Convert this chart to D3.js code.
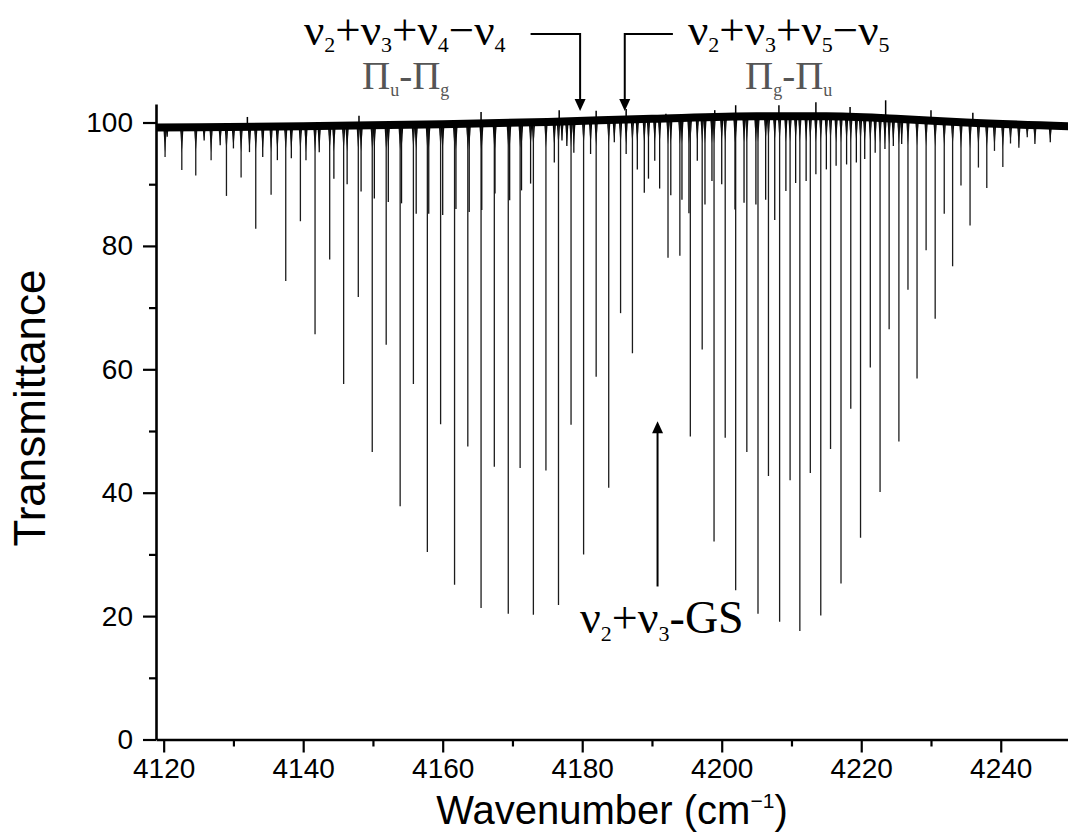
<!DOCTYPE html>
<html>
<head>
<meta charset="utf-8">
<title>transmittance</title>
<script src="https://cdn.jsdelivr.net/npm/d3@7"></script>
<style>
body{margin:0;background:#fff;}
.tick text{font-family:"Liberation Sans",Arial,sans-serif;font-size:28px;fill:#000;}
</style>
</head>
<body>
<script>
// strong lines of the main band (P and R branch)
var strongWn=[4120.2,4124.6,4129.0,4133.2,4137.5,4141.7,4145.8,4149.9,4153.9,4157.8,4161.7,4165.5,4169.4,4173.0,4176.6,4180.2,4183.8,4187.2,
	4192.3,4195.5,4198.9,4202.0,4205.2,4208.3,4211.2,4214.2,4217.1,4219.9,4222.7,4225.4,4228.0,4230.6,4233.1,4235.6,4238.0,4240.3,4242.6,4244.9];
var strongT=[94.4,91.4,88.1,82.8,74.3,65.7,57.6,46.6,37.8,30.4,25.1,21.3,20.4,20.2,21.8,30.0,40.8,62.6,
	78.1,49.1,32.1,24.2,20.4,19.1,17.6,20.1,25.3,32.7,40.1,48.3,58.5,68.2,76.7,83.3,89.4,92.8,95.9,96.5];
// weak lines (other spin species)
var weakWn=[4122.6,4126.8,4131.1,4135.4,4139.6,4143.8,4147.9,4151.9,4155.8,4159.7,4163.6,4167.4,4171.1,4174.8,4178.4,4182.0,4185.5,
	4194.0,4197.2,4200.5,4203.6,4206.7,4209.8,4212.7,4215.6,4218.5,4221.3,4224.0,4226.7,4229.3,4231.9,4234.3,4236.8,4239.1,4241.4,4243.8];
var weakT=[92.3,93.9,91.1,88.3,84.0,77.8,71.7,64.0,57.6,51.1,47.5,44.2,44.0,43.6,51.0,58.8,69.1,
	78.4,63.2,48.9,46.6,42.7,42.0,43.2,47.1,53.6,60.3,66.5,72.9,79.3,85.2,89.8,92.7,95.4,96.6,97.6];
// hot band lines near the top
var hotWn=[4120.5,4125.8,4128.1,4130.0,4132.3,4134.2,4136.3,4138.3,4140.4,4142.3,4144.4,4146.3,4148.3,4150.2,4152.2,4154.1,4156.2,4158.0,4160.0,4161.9,
	4163.8,4165.6,4167.5,4169.6,4171.3,4172.6,4176.0,4177.1,4177.8,4178.8,4181.2,4184.6,4186.3,4187.9,4188.9,4189.5,4190.4,4191.1,4192.7,4194.3,
	4195.3,4196.5,4197.6,4198.6,4200.0,4201.9,4203.2,4204.9,4206.3,4207.6,4209.2,4210.6,4212.1,4213.5,4215.0,4216.4,4217.9,4219.3,4220.5,4222.0,
	4223.4,4224.6,4225.8,4247.1];
var hotT=[97.7,97.1,96.3,95.8,95.2,94.4,93.9,94.2,93.9,95.2,90.9,90.0,88.8,87.7,87.1,86.9,85.2,85.2,85.0,86.0,
	85.5,85.8,88.5,87.4,89.0,90.1,93.5,97.1,96.2,95.1,94.9,96.8,94.9,92.4,88.6,90.9,93.8,89.3,88.2,87.5,
	85.3,93.8,86.7,90.5,90.0,85.9,87.0,86.7,87.5,84.2,88.9,90.2,90.5,91.6,92.4,93.0,93.2,93.5,94.1,95.1,
	95.7,96.2,96.5,96.8];
// upward spikes of the noise
var spikeWn=[4132.0,4148.0,4165.5,4176.7,4182.0,4186.3,4192.0,4199.0,4202.0,4208.2,4213.5,4218.4,4223.5,4230.0,4236.0];
var spikeT=[100.9,101.1,101.7,102.0,101.9,102.2,101.4,102.0,102.8,102.8,103.3,102.5,103.6,102.0,101.6];
// baseline level
var baseWn=[4118.9,4140,4160,4175,4190,4205,4215,4225,4235,4250];
var baseT=[99.2,99.4,99.7,100.1,100.6,101.0,101.0,100.6,100.0,99.4];

var xTicks=[4120,4140,4160,4180,4200,4220,4240],
	xMinor=[4130,4150,4170,4190,4210,4230,4250],
	yTicks=[0,20,40,60,80,100],
	yMinor=[10,30,50,70,90];

var width=1068, height=834;
var svg=d3.select("body").append("svg").attr("width",width).attr("height",height);
var x=d3.scaleLinear().domain([4118.9,4250]).range([156,1070.5]);
var y=d3.scaleLinear().domain([0,103]).range([739.5,104]);
var base=d3.scaleLinear().domain(baseWn).range(baseT);

function drawLines(wn, t, col, sw) {
	var data=wn.map(function (w, i) { return {w: w, t: t[i]}; });
	var g=svg.append("g");
	g.selectAll("path").data(data).enter().append("path")
		.attr("d", function (d) {
			var xx=x(d.w), yb=y(base(d.w)), h=Math.min(y(d.t)-yb, 26);
			return "M"+(xx-1.8)+","+yb+"L"+xx+","+(yb+h)+"L"+(xx+1.8)+","+yb+"Z";
		})
		.attr("fill", "#000");
	g.selectAll("line").data(data).enter().append("line")
		.attr("x1", function (d) { return x(d.w); })
		.attr("x2", function (d) { return x(d.w); })
		.attr("y1", function (d) { return y(base(d.w)); })
		.attr("y2", function (d) { return y(d.t); })
		.attr("stroke", col)
		.attr("stroke-width", sw);
}
drawLines(strongWn, strongT, "#1c1c1c", 1.3);
drawLines(weakWn, weakT, "#1c1c1c", 1.3);
drawLines(hotWn, hotT, "#111", 1.3);

// baseline band
svg.append("path")
	.datum(baseWn)
	.attr("d", d3.line().x(function (d) { return x(d); }).y(function (d) { return y(base(d)); }).curve(d3.curveMonotoneX))
	.attr("fill", "none")
	.attr("stroke", "#000")
	.attr("stroke-width", 8);
svg.append("g").selectAll("line")
	.data(spikeWn)
	.enter().append("line")
	.attr("x1", function (d) { return x(d); })
	.attr("x2", function (d) { return x(d); })
	.attr("y1", function (d) { return y(base(d)); })
	.attr("y2", function (d, i) { return y(spikeT[i]); })
	.attr("stroke", "#000")
	.attr("stroke-width", 1.5);

// axes
var gx=svg.append("g").attr("transform", "translate(0,"+y(0)+")");
gx.call(d3.axisBottom(x).tickValues(xTicks).tickSize(13).tickSizeOuter(0).tickPadding(6).tickFormat(d3.format("d")));
var gx2=svg.append("g").attr("transform", "translate(0,"+y(0)+")");
gx2.call(d3.axisBottom(x).tickValues(xMinor).tickSize(7).tickSizeOuter(0).tickFormat(""));
gx2.select(".domain").remove();
var gy=svg.append("g").attr("transform", "translate("+x.range()[0]+",0)");
gy.call(d3.axisLeft(y).tickValues(yTicks).tickSize(13).tickSizeOuter(0).tickPadding(10));
var gy2=svg.append("g").attr("transform", "translate("+x.range()[0]+",0)");
gy2.call(d3.axisLeft(y).tickValues(yMinor).tickSize(7).tickSizeOuter(0).tickFormat(""));
gy2.select(".domain").remove();
svg.selectAll(".domain").attr("stroke-width", 2.6);
svg.selectAll(".tick line").attr("stroke-width", 2.2);

// axis titles
var xt=svg.append("text")
	.attr("x", 612).attr("y", 824)
	.attr("text-anchor", "middle")
	.attr("font-family", "'Liberation Sans',Arial,sans-serif")
	.attr("font-size", 40);
xt.append("tspan").text("Wavenumber (cm");
xt.append("tspan").attr("font-size", 21).attr("dy", -16).text("\u22121");
xt.append("tspan").attr("dy", 16).text(")");

svg.append("text")
	.attr("transform", "translate(45,408) rotate(-90)")
	.attr("text-anchor", "middle")
	.attr("font-family", "'Liberation Sans',Arial,sans-serif")
	.attr("font-size", 44)
	.text("Transmittance");

// annotations
function label(x0, y0, size, subSize, off, fill, parts) {
	var t=svg.append("text")
		.attr("x", x0).attr("y", y0)
		.attr("font-family", "'Liberation Serif','Times New Roman',serif")
		.attr("font-size", size)
		.attr("fill", fill);
	var down=false;
	parts.forEach(function (p) {
		var sp=t.append("tspan").text(p[0]);
		if (p[1]) {
			sp.attr("font-size", subSize).attr("dy", down ? 0 : off);
			down=true;
		} else {
			if (down) sp.attr("dy", -off);
			down=false;
		}
	});
}
label(304, 45, 45, 22, 7, "#000", [["\u03bd"],["2",1],["+\u03bd"],["3",1],["+\u03bd"],["4",1],["\u2212\u03bd"],["4",1]]);
label(688, 45, 45, 22, 7, "#000", [["\u03bd"],["2",1],["+\u03bd"],["3",1],["+\u03bd"],["5",1],["\u2212\u03bd"],["5",1]]);
label(362, 89, 39, 18, 7, "#555", [["\u03a0"],["u",1],["-\u03a0"],["g",1]]);
label(745, 89, 39, 18, 7, "#555", [["\u03a0"],["g",1],["-\u03a0"],["u",1]]);
label(580, 633, 46, 22, 8, "#000", [["\u03bd"],["2",1],["+\u03bd"],["3",1],["-GS"]]);

// arrows
function arrow(pts) {
	var tip=pts[pts.length-1], prev=pts[pts.length-2];
	var dir=tip[1]>prev[1] ? 1 : -1;
	var end=[tip[0], tip[1]-dir*11];
	svg.append("path")
		.attr("d", d3.line()(pts.slice(0, -1).concat([end])))
		.attr("fill", "none").attr("stroke", "#000").attr("stroke-width", 2);
	svg.append("path")
		.attr("d", "M"+(tip[0]-5.5)+","+(tip[1]-dir*12)+"L"+tip[0]+","+tip[1]+"L"+(tip[0]+5.5)+","+(tip[1]-dir*12)+"Z")
		.attr("fill", "#000");
}
arrow([[x(4172.6), 34], [x(4179.7), 34], [x(4179.7), 111]]);
arrow([[x(4193.0), 34], [x(4186.1), 34], [x(4186.1), 111]]);
arrow([[x(4190.8), y(24.8)], [x(4190.8), y(51.6)]]);
</script>
</body>
</html>
